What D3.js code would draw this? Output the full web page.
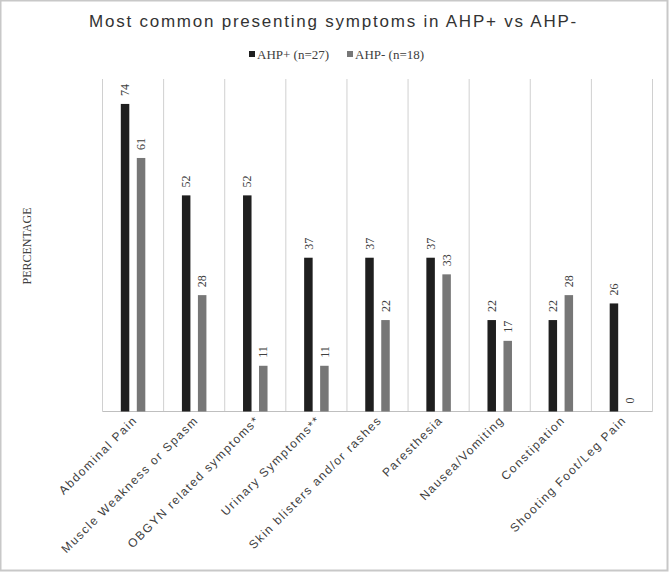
<!DOCTYPE html>
<html>
<head>
<meta charset="utf-8">
<script src="https://cdn.jsdelivr.net/npm/d3@7"></script>
<style>
  html, body { margin: 0; padding: 0; background: #fff; }
  svg { display: block; }
</style>
</head>
<body>
<script>
const categories = ["Abdominal Pain", "Muscle Weakness or Spasm", "OBGYN related symptoms*", "Urinary Symptoms**", "Skin blisters and/or rashes", "Paresthesia", "Nausea/Vomiting", "Constipation", "Shooting Foot/Leg Pain"];
const ahpPos = [74, 52, 52, 37, 37, 37, 22, 22, 26];
const ahpNeg = [61, 28, 11, 11, 22, 33, 17, 28, 0];
const seriesNames = ["AHP+ (n=27)", "AHP- (n=18)"];
const seriesColors = ["#1f1f1f", "#777777"];
const titleText = "Most common presenting symptoms in AHP+ vs AHP-";
const yAxisTitle = "PERCENTAGE";

const W = 669, H = 572;
const svg = d3.select("body").append("svg").attr("width", W).attr("height", H);

// outer border
svg.append("rect").attr("x", 0.5).attr("y", 0.5).attr("width", W - 2).attr("height", H - 2)
  .attr("fill", "#fff").attr("stroke", "#c8c8c8").attr("stroke-width", 2);

const x = d3.scaleBand().domain(categories).range([102.5, 652.5]).padding(0);
const y = d3.scaleLinear().domain([0, 80]).range([411.5, 79]);

const barW = 8.5, gap = 7.5;

// vertical gridlines at band boundaries
const bounds = categories.map(c => x(c)).concat([x.range()[1]]);
svg.append("g").selectAll("line").data(bounds).join("line")
  .attr("x1", d => d).attr("x2", d => d)
  .attr("y1", y(80)).attr("y2", y(0))
  .attr("stroke", "#d0d0d0").attr("stroke-width", 1);

// bottom axis line
svg.append("line").attr("x1", x.range()[0]).attr("x2", x.range()[1])
  .attr("y1", y(0)).attr("y2", y(0)).attr("stroke", "#bfbfbf").attr("stroke-width", 1.2);

const series = [ahpPos, ahpNeg];
series.forEach((vals, si) => {
  const offset = si === 0 ? -gap / 2 - barW : gap / 2;
  const g = svg.append("g");
  g.selectAll("rect").data(vals).join("rect")
    .attr("x", (d, i) => x(categories[i]) + x.bandwidth() / 2 + offset)
    .attr("width", barW)
    .attr("y", d => y(d))
    .attr("height", d => y(0) - y(d))
    .attr("fill", seriesColors[si]);
  g.selectAll("text").data(vals).join("text")
    .attr("transform", (d, i) => `translate(${x(categories[i]) + x.bandwidth() / 2 + offset + barW / 2},${y(d) - 8}) rotate(-90)`)
    .attr("dy", "0.35em")
    .attr("text-anchor", "start")
    .attr("font-family", "'Liberation Serif', serif")
    .attr("font-size", 12)
    .attr("fill", "#404040")
    .text(d => d);
});

// x labels
svg.append("g").selectAll("text").data(categories).join("text")
  .attr("transform", d => `translate(${x(d) + x.bandwidth() / 2 + 5},421) rotate(-45)`)
  .attr("text-anchor", "end")
  .attr("font-family", "'Liberation Sans', Arial, sans-serif")
  .attr("font-size", 12)
  .attr("letter-spacing", "1.5px")
  .attr("fill", "#404040")
  .text(d => d);

// y axis title
svg.append("text")
  .attr("transform", "translate(27,246) rotate(-90)")
  .attr("dy", "0.35em")
  .attr("text-anchor", "middle")
  .attr("font-family", "'Liberation Serif', serif")
  .attr("font-size", 12)
  .attr("fill", "#404040")
  .text(yAxisTitle);

// title
const title = svg.append("text")
  .attr("x", 333.5).attr("y", 27)
  .attr("text-anchor", "middle")
  .attr("font-family", "'Liberation Sans', Arial, sans-serif")
  .attr("font-size", 17)
  .attr("fill", "#333")
  .text(titleText);
const natural = title.node().getComputedTextLength();
const targetW = 489;
const ls = (targetW - natural) / titleText.length;
title.attr("letter-spacing", ls + "px");

// legend
const legendX = [249, 347];
seriesNames.forEach((name, i) => {
  svg.append("rect").attr("x", legendX[i]).attr("y", 51).attr("width", 6).attr("height", 6)
    .attr("fill", seriesColors[i]);
  svg.append("text").attr("x", legendX[i] + 8).attr("y", 58.5)
    .attr("font-family", "'Liberation Serif', serif")
    .attr("font-size", 13)
    .attr("fill", "#404040")
    .text(name);
});
</script>
</body>
</html>
